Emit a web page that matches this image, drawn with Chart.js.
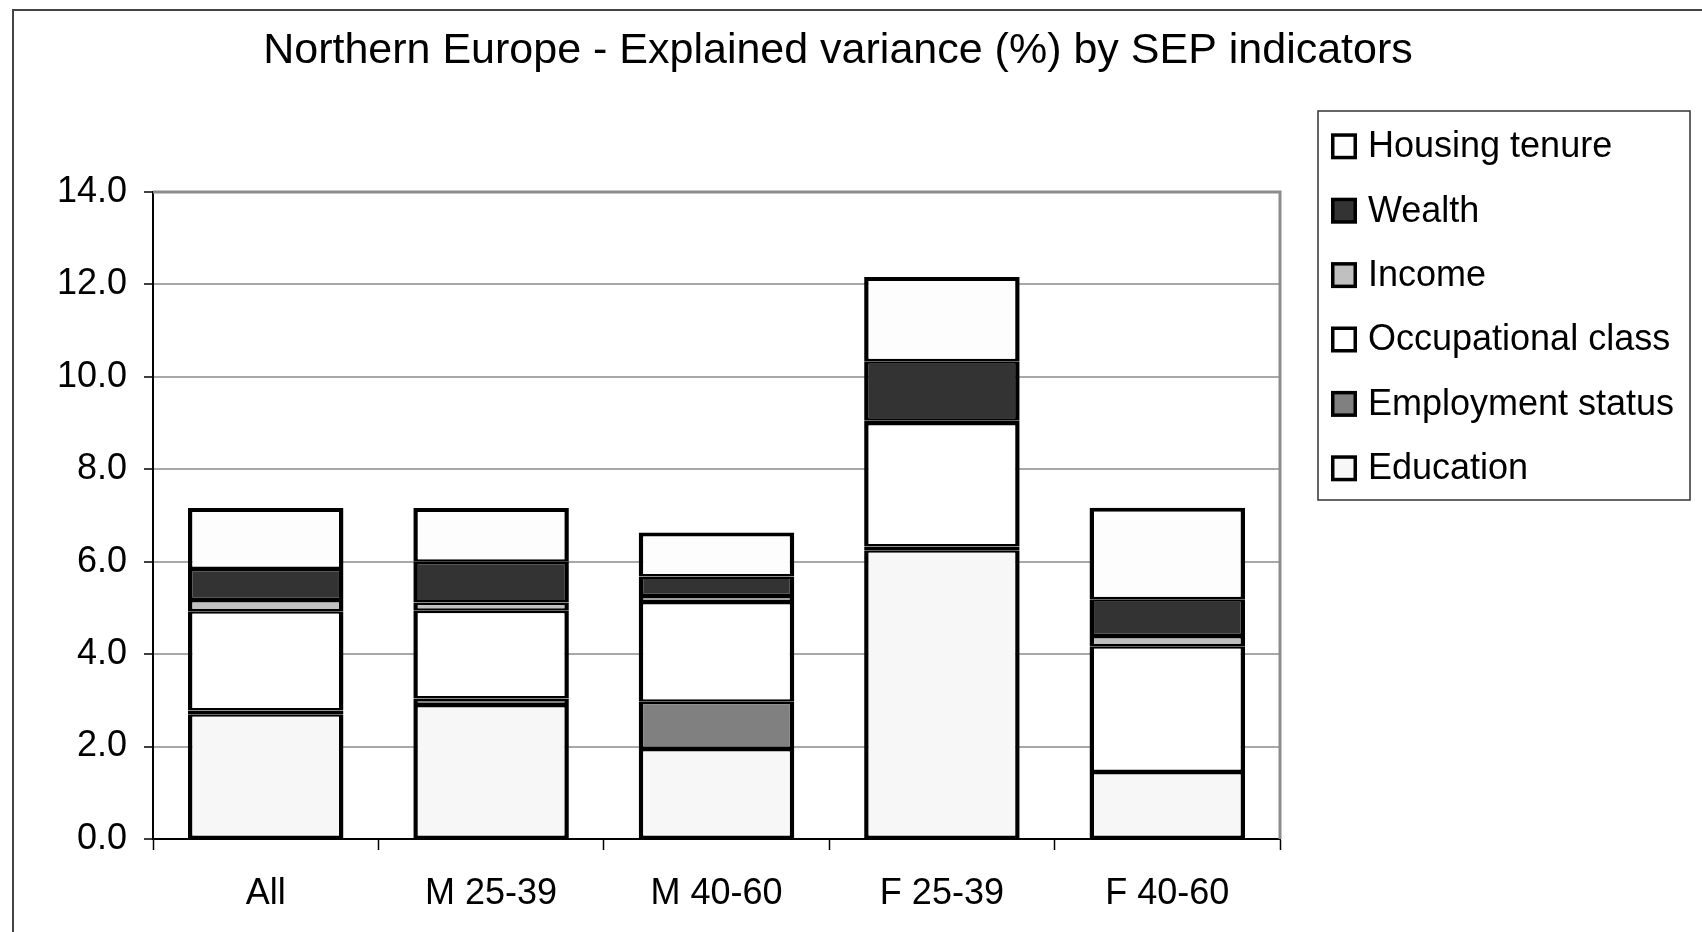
<!DOCTYPE html>
<html>
<head>
<meta charset="utf-8">
<title>Northern Europe - Explained variance (%) by SEP indicators</title>
<script src="https://cdn.jsdelivr.net/npm/chart.js@4/dist/chart.umd.min.js"></script>
<style>
  html, body { margin: 0; padding: 0; background: #fff; }
  canvas { display: block; }
</style>
</head>
<body>
<canvas id="chart" width="1702" height="932"></canvas>
<script>
// Population groups on the x axis
const groups = ['All', 'M 25-39', 'M 40-60', 'F 25-39', 'F 40-60'];

// Explained variance (%) per SEP indicator, stacked bottom to top
const education    = [2.70, 2.90, 1.95, 6.25, 1.45];
const employment   = [0.08, 0.14, 1.02, 0.08, 0.00];
const occupational = [2.15, 1.90, 2.16, 2.67, 2.72];
const income       = [0.24, 0.18, 0.13, 0.05, 0.22];
const wealth       = [0.67, 0.88, 0.42, 1.29, 0.80];
const housing      = [1.32, 1.16, 0.95, 1.82, 1.98];

// Y axis ticks
const yTicks = [0, 2, 4, 6, 8, 10, 12, 14];

const chartTitle = 'Northern Europe - Explained variance (%) by SEP indicators';
const FONT = '"Liberation Sans", Arial, sans-serif';

const series = [
  { label: 'Education',          data: education,    color: '#f7f7f7' },
  { label: 'Employment status',  data: employment,   color: '#808080' },
  { label: 'Occupational class', data: occupational, color: '#ffffff' },
  { label: 'Income',             data: income,       color: '#c0c0c0' },
  { label: 'Wealth',             data: wealth,       color: '#333333' },
  { label: 'Housing tenure',     data: housing,      color: '#fdfdfd' }
];

const lastIndex = series.length - 1;

const datasets = series.map((s, i) => ({
  label: s.label,
  data: s.data,
  backgroundColor: s.color,
  borderColor: '#000000',
  borderSkipped: false,
  inflateAmount: 0,
  borderWidth: i === lastIndex
    ? { top: 4, bottom: 2.5, left: 4.5, right: 4.5 }
    : { top: 2.5, bottom: 2.5, left: 4.5, right: 4.5 },
  barPercentage: 0.69,
  categoryPercentage: 1.0
}));

// Title, outer frame, plot frame and boxed legend
const decorations = {
  id: 'decorations',
  beforeDatasetsDraw(chart) {
    const { ctx, chartArea: a } = chart;
    ctx.save();
    ctx.strokeStyle = '#8c8c8c';
    ctx.lineWidth = 3;
    ctx.beginPath();
    ctx.moveTo(a.left, a.top);
    ctx.lineTo(a.right, a.top);
    ctx.lineTo(a.right, a.bottom);
    ctx.stroke();
    ctx.restore();
  },
  afterDraw(chart) {
    const { ctx } = chart;
    ctx.save();
    // outer frame
    ctx.strokeStyle = '#444444';
    ctx.lineWidth = 2;
    ctx.strokeRect(13, 10, 1720, 960);

    // title
    ctx.fillStyle = '#000000';
    ctx.font = '43px ' + FONT;
    ctx.textAlign = 'center';
    ctx.textBaseline = 'middle';
    ctx.fillText(chartTitle, 838, 51);

    // legend box
    const lx = 1318, ly = 111, lw = 372, lh = 389;
    ctx.strokeStyle = '#333333';
    ctx.lineWidth = 1.5;
    ctx.strokeRect(lx, ly, lw, lh);

    const items = chart.data.datasets.slice().reverse();
    const rowH = 64.4;
    ctx.font = '36px ' + FONT;
    ctx.textAlign = 'left';
    items.forEach((d, k) => {
      const cy = 146.3 + k * rowH;
      const sx = 1331, size = 26;
      ctx.fillStyle = '#000000';
      ctx.fillRect(sx, cy - size / 2, size, size);
      ctx.fillStyle = d.backgroundColor;
      ctx.fillRect(sx + 3.5, cy - size / 2 + 3.5, size - 7, size - 7);
      ctx.fillStyle = '#000000';
      ctx.fillText(d.label, 1368, cy + 1);
    });
    ctx.restore();
  }
};

new Chart(document.getElementById('chart'), {
  type: 'bar',
  data: { labels: groups, datasets },
  options: {
    responsive: false,
    animation: false,
    devicePixelRatio: 1,
    layout: { padding: { left: 13, right: 422, top: 192, bottom: 0 } },
    plugins: {
      legend: { display: false },
      title: { display: false },
      tooltip: { enabled: false }
    },
    scales: {
      x: {
        stacked: true,
        afterFit(scale) { scale.height = 93; },
        grid: {
          offset: true,
          drawOnChartArea: false,
          drawTicks: true,
          tickLength: 11,
          tickColor: '#000000',
          tickWidth: 1.5
        },
        border: { color: '#000000', width: 2 },
        ticks: {
          color: '#000000',
          font: { family: FONT, size: 36 },
          padding: 22,
          maxRotation: 0
        }
      },
      y: {
        stacked: true,
        min: 0,
        max: 14,
        afterFit(scale) { scale.width = 140; },
        afterBuildTicks(scale) { scale.ticks = yTicks.map(v => ({ value: v })); },
        grid: {
          color: '#a8a8a8',
          lineWidth: 2,
          drawTicks: true,
          tickLength: 9,
          tickColor: '#000000',
          tickWidth: 1.5
        },
        border: { color: '#000000', width: 2 },
        ticks: {
          color: '#000000',
          font: { family: FONT, size: 36 },
          padding: 17,
          callback: v => Number(v).toFixed(1)
        }
      }
    }
  },
  plugins: [decorations]
});
</script>
</body>
</html>
